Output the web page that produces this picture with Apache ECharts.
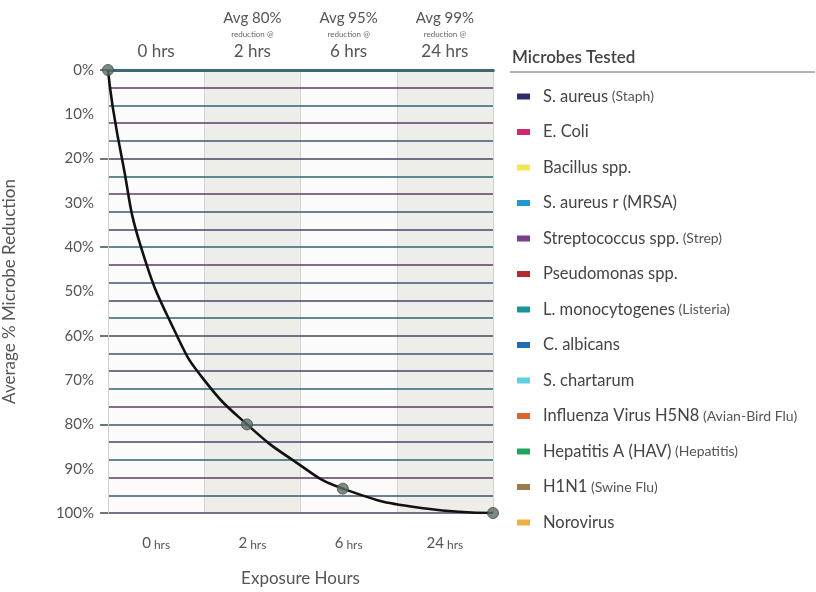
<!DOCTYPE html>
<html><head><meta charset="utf-8">
<script src="https://cdn.jsdelivr.net/npm/echarts@6/dist/echarts.min.js"></script>
<style>html,body{margin:0;padding:0;background:#fff}#c{width:816px;height:592px}</style>
</head><body><div id="c"></div>
<script>
// ---- data ----
const hourCategories = ['0', '2', '6', '24'];
const avgLabels = ['', 'Avg 80%', 'Avg 95%', 'Avg 99%'];
// curve: [position along hour columns (0..4), % reduction]
const curveX = [0, 0.047, 0.145, 0.343, 0.717, 1.0, 1.444, 1.95, 2.44, 3.3, 4.0];
const curveY = [0, 8, 20, 40, 60, 70, 80, 88.5, 94.5, 99, 100];
// marked test results
const markX = [0, 1.444, 2.44, 4.0];
const markY = [0, 80, 94.5, 100];
const yTicks = [0, 10, 20, 30, 40, 50, 60, 70, 80, 90, 100];
const microbeNames = ['S. aureus', 'E. Coli', 'Bacillus spp.', 'S. aureus r (MRSA)', 'Streptococcus spp.', 'Pseudomonas spp.', 'L. monocytogenes', 'C. albicans', 'S. chartarum', 'Influenza Virus H5N8', 'Hepatitis A (HAV)', 'H1N1', 'Norovirus'];
const microbeNotes = ['(Staph)', '', '', '', '(Strep)', '', '(Listeria)', '', '', '(Avian-Bird Flu)', '(Hepatitis)', '(Swine Flu)', ''];
const microbeColors = ['#2b2d6e', '#d6246e', '#f1e64e', '#1d9ad6', '#7b3d8e', '#b5292e', '#17959a', '#1d6fb5', '#5dd0e6', '#e0622a', '#1ca65a', '#9a7a46', '#f0b040'];

// ---- chart ----
const FONT = 'Lato';
const chart = echarts.init(document.getElementById('c'));
const curveData = curveX.map((x, i) => [x, curveY[i]]);
const markData = markX.map((x, i) => [x, markY[i]]);

const legendSeries = microbeNames.map((n, i) => ({
  name: n, type: 'line', data: [], xAxisIndex: 0, yAxisIndex: 0,
  itemStyle: { color: microbeColors[i] }, lineStyle: { color: microbeColors[i] }
}));

chart.setOption({
  animation: false,
  textStyle: { fontFamily: FONT },
  grid: { left: 108, right: 323, top: 70, bottom: 69 },
  graphic: [
    { type: 'text', left: 512, top: 49, style: { text: 'Microbes Tested', font: '600 17px Lato', fill: '#444' } },
    { type: 'line', shape: { x1: 510, y1: 72, x2: 815, y2: 72 }, style: { stroke: '#666', lineWidth: 1 } }
  ],
  legend: {
    orient: 'vertical', left: 512, top: 83, itemWidth: 13, itemHeight: 6, itemGap: 18.5,
    icon: 'rect',
    data: microbeNames,
    formatter: function (name) {
      const i = microbeNames.indexOf(name);
      return '{m|' + name + '}' + (microbeNotes[i] ? '{s| ' + microbeNotes[i] + '}' : '');
    },
    textStyle: {
      padding: [0, 0, 0, 8],
      rich: {
        m: { fontFamily: FONT, fontSize: 16.5, color: '#444', lineHeight: 20 },
        s: { fontFamily: FONT, fontSize: 14, color: '#555', lineHeight: 20 }
      }
    }
  },
  xAxis: [
    { type: 'value', min: 0, max: 4, show: false },
    {
      type: 'category', position: 'bottom', data: hourCategories, boundaryGap: true, z: 0,
      name: 'Exposure Hours', nameLocation: 'middle', nameGap: 57,
      nameTextStyle: { fontFamily: FONT, fontSize: 17, color: '#555' },
      axisLine: { lineStyle: { color: '#4a4a68', width: 3 } },
      axisTick: { show: false },
      axisLabel: {
        margin: 23, interval: 0,
        formatter: v => '{n|' + v + '}{u| hrs}',
        rich: {
          n: { fontFamily: FONT, fontSize: 15, color: '#555' },
          u: { fontFamily: FONT, fontSize: 12, color: '#555', padding: [3, 0, 0, 0] }
        }
      },
      splitLine: { show: true, lineStyle: { color: '#d4d4d4', width: 1 } },
      splitArea: { show: true, areaStyle: { color: ['#fbfbfb', '#ededea'] } }
    },
    {
      type: 'category', position: 'top', data: hourCategories, boundaryGap: true, z: 3,
      axisLine: { lineStyle: { color: '#3a6a70', width: 3 } },
      axisTick: { show: false },
      axisLabel: {
        margin: 8, interval: 0,
        formatter: (v, i) => avgLabels[i]
          ? '{a|' + avgLabels[i] + '}\n{r|reduction @}\n{h|' + v + ' hrs}'
          : '{h|' + v + ' hrs}',
        rich: {
          a: { fontFamily: FONT, fontSize: 15, color: '#555', lineHeight: 19, align: 'center' },
          r: { fontFamily: FONT, fontSize: 8, color: '#666', lineHeight: 13, align: 'center' },
          h: { fontFamily: FONT, fontSize: 17, color: '#555', lineHeight: 21, align: 'center' }
        }
      }
    }
  ],
  yAxis: [
    {
      type: 'value', min: 0, max: 100, interval: 4, inverse: true, z: 2,
      axisLabel: { show: false }, axisTick: { show: false },
      axisLine: { show: true, lineStyle: { color: '#cfcfcf', width: 1 } },
      splitLine: { show: true, lineStyle: { color: ['#3f5570', '#4f3f66', '#2f6470', '#5a3f5e'], width: 1.6 } }
    },
    {
      type: 'value', min: 0, max: 100, interval: 10, inverse: true, position: 'left',
      name: 'Average % Microbe Reduction', nameLocation: 'middle', nameGap: 90,
      nameTextStyle: { fontFamily: FONT, fontSize: 17, color: '#555' },
      axisLine: { show: false }, axisTick: { show: false }, splitLine: { show: false },
      axisLabel: { margin: 14, fontFamily: FONT, fontSize: 15, color: '#555', formatter: v => yTicks.includes(v) ? v + '%' : '' }
    },
    {
      type: 'value', min: 0, max: 100, interval: 20, inverse: true, position: 'left',
      axisLine: { show: false }, axisLabel: { show: false }, splitLine: { show: false },
      axisTick: { show: true, length: 8, lineStyle: { color: '#3f5a60', width: 1.6 } }
    }
  ],
  series: [
    ...legendSeries,
    {
      name: 'curve', type: 'line', data: curveData, xAxisIndex: 0, yAxisIndex: 0,
      smooth: 0.5, showSymbol: false, lineStyle: { color: '#111', width: 2.6 }, z: 5
    },
    {
      name: 'marks', type: 'scatter', data: markData, xAxisIndex: 0, yAxisIndex: 0,
      symbolSize: 11, itemStyle: { color: '#5c6e66', borderColor: '#3c4a46', borderWidth: 1 }, z: 6
    }
  ]
});
</script></body></html>
